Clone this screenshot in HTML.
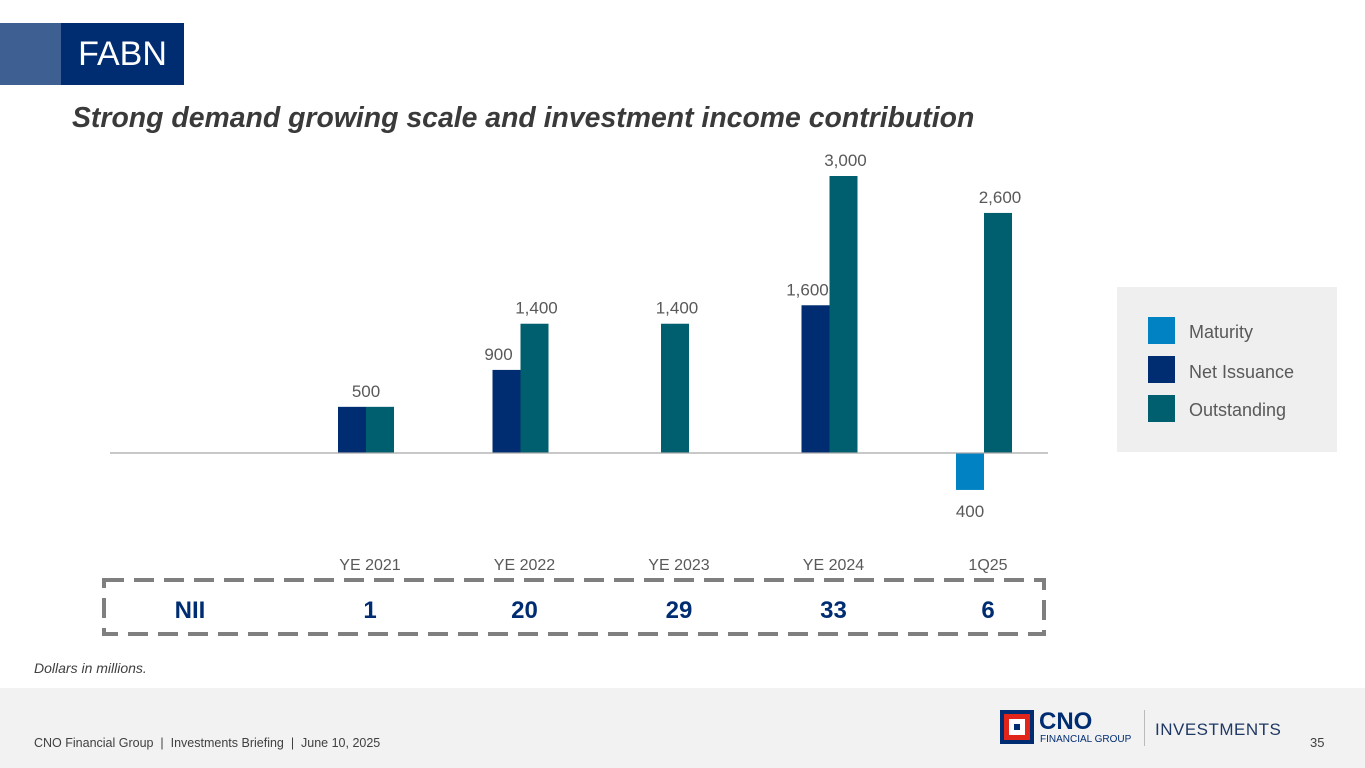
<!DOCTYPE html>
<html><head><meta charset="utf-8">
<style>
body{margin:0;width:1365px;height:768px;overflow:hidden;background:#fff;font-family:"Liberation Sans",Arial,sans-serif;position:relative}
.abs{position:absolute}
</style></head><body>
<div class="abs" style="left:0;top:23px;width:61px;height:62px;background:#3e5f92"></div>
<div class="abs" style="left:61px;top:23px;width:123px;height:62px;background:#002d72;color:#fff;font-size:34px;line-height:62px;text-align:center">FABN</div>
<div class="abs" style="left:72px;top:102px;font-size:28.4px;font-weight:bold;font-style:italic;color:#3a3a3a">Strong demand growing scale and investment income contribution</div>

<svg class="abs" style="left:0;top:0" width="1365" height="768">
<g id="bars"></g>
<line x1="110" y1="453" x2="1048" y2="453" stroke="#a6a6a6" stroke-width="1.2"/>
<rect x="104" y="580" width="940" height="54" fill="none" stroke="#7f7f7f" stroke-width="4" stroke-dasharray="20 10"/>
<text x="190" y="618" font-size="24" font-weight="bold" fill="#002d72" text-anchor="middle">NII</text>
<g id="nii"></g>
</svg>

<div class="abs" style="left:1117px;top:287px;width:220px;height:165px;background:#efefef;font-size:18px;color:#595959">
 <div class="abs" style="left:31px;top:30px;width:27px;height:27px;background:#0082c3"></div>
 <div class="abs" style="left:72px;top:35px">Maturity</div>
 <div class="abs" style="left:31px;top:69px;width:27px;height:27px;background:#002d72"></div>
 <div class="abs" style="left:72px;top:75px">Net Issuance</div>
 <div class="abs" style="left:31px;top:108px;width:27px;height:27px;background:#005f6e"></div>
 <div class="abs" style="left:72px;top:113px">Outstanding</div>
</div>

<div class="abs" style="left:34px;top:660px;font-size:14px;font-style:italic;color:#404040">Dollars in millions.</div>
<div class="abs" style="left:0;top:688px;width:1365px;height:80px;background:#f2f2f2">
 <div class="abs" style="left:34px;top:48px;font-size:12.5px;color:#404040">CNO Financial Group &nbsp;|&nbsp; Investments Briefing &nbsp;|&nbsp; June 10, 2025</div>
 <div class="abs" style="left:1000px;top:22px;width:34px;height:34px;background:#002d72"><div class="abs" style="left:4px;top:4px;width:26px;height:26px;background:#e1251b"><div class="abs" style="left:5px;top:5px;width:16px;height:16px;background:#fff"><div class="abs" style="left:5px;top:5px;width:6px;height:6px;background:#002d72"></div></div></div></div>
 <div class="abs" style="left:1039px;top:20px;font-size:24px;font-weight:bold;color:#002d72">CNO</div>
 <div class="abs" style="left:1040px;top:46px;font-size:10px;color:#002d72">FINANCIAL GROUP</div>
 <div class="abs" style="left:1144px;top:22px;width:1px;height:36px;background:#bbb"></div>
 <div class="abs" style="left:1155px;top:32px;font-size:17px;color:#1f3864;letter-spacing:0.5px">INVESTMENTS</div>
 <div class="abs" style="left:1310px;top:47px;font-size:13px;color:#404040">35</div>
</div>

<script>
const categories=["YE 2021","YE 2022","YE 2023","YE 2024","1Q25"];
const maturity=[0,0,0,0,-400];
const netIssuance=[500,900,0,1600,0];
const outstanding=[500,1400,1400,3000,2600];
const niiValues=["1","20","29","33","6"];
const x0=366,step=154.5,bw=28,base=453,k=277/3000;
const xc=i=>x0+i*step;
const y=v=>base-v*k;
const NS="http://www.w3.org/2000/svg";
const g=document.getElementById('bars'),ng=document.getElementById('nii');
function rect(x,v,fill,name){const r=document.createElementNS(NS,'rect');
r.setAttribute('x',x);r.setAttribute('y',Math.min(y(v),base));r.setAttribute('width',bw);r.setAttribute('height',Math.abs(y(v)-base));r.setAttribute('fill',fill);


g.appendChild(r);}
function txt(par,x,yy,s,size,fill,bold,name){const t=document.createElementNS(NS,'text');
t.setAttribute('x',x);t.setAttribute('y',yy);t.setAttribute('font-size',size);t.setAttribute('fill',fill);t.setAttribute('text-anchor','middle');if(bold)t.setAttribute('font-weight','bold');t.textContent=s;


par.appendChild(t);}
const fmt=v=>Math.abs(v).toLocaleString('en-US');
categories.forEach((c,i)=>{
 const cx=xc(i);
 if(maturity[i]){rect(cx-bw,maturity[i],'#0082c3','bar-maturity');txt(g,cx-bw/2,y(maturity[i])+27,fmt(maturity[i]),17,'#595959',false,'label-maturity');}
 if(netIssuance[i]){rect(cx-bw,netIssuance[i],'#002d72','bar-net-issuance');
   if(netIssuance[i]!==outstanding[i])txt(g,cx-bw/2-8,y(netIssuance[i])-10,fmt(netIssuance[i]),17,'#595959',false,'label-net-issuance');}
 if(outstanding[i]){const ox=netIssuance[i]||maturity[i]?cx:cx-bw/2;rect(ox,outstanding[i],'#005f6e','bar-outstanding');
   const lx=netIssuance[i]===outstanding[i]?cx:ox+bw/2+2;
   txt(g,lx,y(outstanding[i])-10,fmt(outstanding[i]),17,'#595959',false,'label-outstanding');}
 txt(g,cx+4,570,c,16,'#595959',false,'x-axis-label');
 txt(ng,cx+4,618,niiValues[i],24,'#002d72',true,'nii-value');
});
</script>
</body></html>
